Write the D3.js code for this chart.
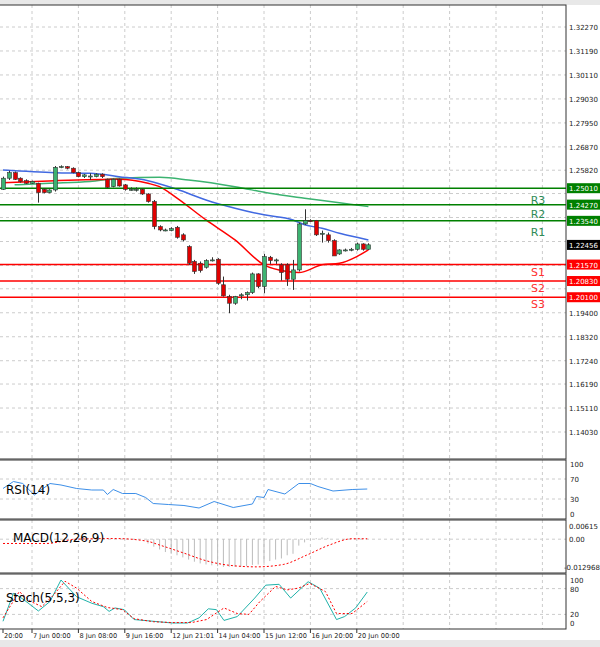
<!DOCTYPE html>
<html><head><meta charset="utf-8">
<script src="https://cdn.jsdelivr.net/npm/d3@7"></script>
<style>body{margin:0;background:#fff}svg{display:block;font-family:"DejaVu Sans",sans-serif}</style>
</head><body><svg id="c" width="600" height="647"></svg>
<script>
// candles (open, close, high, low)
var opens  = [1.2496,1.2546,1.2571,1.2546,1.2535,1.2523,1.2523,1.2496,1.2481,1.2493,1.2595,1.2598,1.2591,1.2571,1.2553,1.2556,1.2553,1.2564,1.2541,1.2508,1.2541,1.2516,1.2496,1.2496,1.2496,1.2475,1.2441,1.2328,1.2313,1.2310,1.2325,1.2291,1.2238,1.2171,1.2163,1.2145,1.2178,1.2181,1.2066,1.2013,1.1983,1.2016,1.2021,1.2031,1.2115,1.2058,1.2190,1.2175,1.2156,1.2156,1.2091,1.2133,1.2340,1.2355,1.2355,1.2298,1.2291,1.2265,1.2205,1.2220,1.2223,1.2226,1.2250,1.2226];
var closes = [1.2546,1.2571,1.2541,1.2531,1.2523,1.2531,1.2481,1.2481,1.2493,1.2595,1.2598,1.2591,1.2571,1.2553,1.2561,1.2556,1.2564,1.2553,1.2505,1.2541,1.2511,1.2496,1.2496,1.2496,1.2475,1.2441,1.2328,1.2313,1.2313,1.2319,1.2280,1.2268,1.2163,1.2126,1.2130,1.2175,1.2178,1.2073,1.2016,1.1983,1.2013,1.2021,1.2031,1.2115,1.2058,1.2193,1.2175,1.2178,1.2121,1.2091,1.2133,1.2340,1.2355,1.2353,1.2291,1.2298,1.2265,1.2196,1.2223,1.2223,1.2226,1.2250,1.2226,1.2246];
var highs  = [1.2553,1.2580,1.2576,1.2550,1.2541,1.2535,1.2526,1.2501,1.2496,1.2601,1.2604,1.2601,1.2595,1.2576,1.2565,1.2568,1.2568,1.2568,1.2544,1.2544,1.2544,1.2520,1.2505,1.2505,1.2501,1.2478,1.2448,1.2334,1.2319,1.2325,1.2331,1.2298,1.2244,1.2178,1.2171,1.2181,1.2190,1.2186,1.2103,1.2021,1.2016,1.2028,1.2036,1.2121,1.2118,1.2205,1.2196,1.2184,1.2163,1.2163,1.2178,1.2346,1.2406,1.2361,1.2358,1.2310,1.2301,1.2271,1.2226,1.2229,1.2232,1.2256,1.2253,1.2253];
var lows   = [1.2493,1.2538,1.2538,1.2526,1.2520,1.2520,1.2436,1.2478,1.2478,1.2486,1.2591,1.2586,1.2568,1.2550,1.2547,1.2538,1.2550,1.2547,1.2501,1.2505,1.2508,1.2490,1.2490,1.2486,1.2471,1.2436,1.2316,1.2307,1.2307,1.2307,1.2274,1.2261,1.2156,1.2115,1.2121,1.2139,1.2171,1.2066,1.2013,1.1938,1.1976,1.2001,1.1995,1.2025,1.2051,1.2028,1.2160,1.2160,1.2085,1.2061,1.2043,1.2126,1.2336,1.2349,1.2286,1.2256,1.2256,1.2244,1.2201,1.2216,1.2217,1.2220,1.2220,1.2223];

// moving averages [candle index, price]
var maRed   = [[0,1.2526],[9,1.2535],[20,1.2541],[25,1.2523],[27,1.2508],[30,1.2456],[35,1.2358],[40,1.2268],[45,1.2156],[49,1.2126],[51,1.2121],[55,1.2156],[58,1.2163],[61,1.2193],[63,1.2223]];
var maBlue  = [[0,1.2583],[9,1.2571],[15,1.2568],[20,1.2553],[25,1.2535],[30,1.2496],[35,1.2448],[40,1.2411],[45,1.2381],[50,1.2358],[52,1.2336],[55,1.2321],[58,1.2298],[61,1.2280],[63,1.2268]];
var maGreen = [[2,1.2516],[8,1.2523],[15,1.2531],[20,1.2546],[27,1.2550],[32,1.2538],[40,1.2508],[46,1.2478],[52,1.2456],[58,1.2436],[63,1.2418]];

var levelsR = [1.2501,1.2427,1.2354];
var levelsS = [1.2157,1.2083,1.2010];
var lastPrice = 1.22456;
var priceTicks = [1.32270,1.31190,1.30110,1.29030,1.27950,1.26870,1.25820,1.24770,1.23690,1.22610,1.21530,1.20480,1.19400,1.18320,1.17240,1.16190,1.15110,1.14030];

var rsi = [[0,51],[1.8,65],[3.4,61],[5.4,38],[8.1,61],[10,58],[12.7,51],[15.3,48],[17.3,48],[18,39],[19,49],[20.6,41],[22.9,41],[24.6,33],[25.9,21],[28.5,19],[31.2,17],[33.8,12],[36.4,25],[39.7,13],[43,20],[43.7,35],[45,33],[45.7,49],[48.6,40],[51,61],[53,61],[54.3,55],[56.9,46],[60.2,49],[62.8,50]];

var macdHist = [[25,-0.002],[26,-0.0035],[27,-0.0048],[28,-0.006],[29,-0.0068],[30,-0.0075],[31,-0.0085],[32,-0.0095],[33,-0.0105],[34,-0.0113],[35,-0.0118],[36,-0.0122],[37,-0.0126],[38,-0.0129],[39,-0.0129],[40,-0.0129],[41,-0.0128],[42,-0.0125],[43,-0.012],[44,-0.0118],[45,-0.0108],[46,-0.0102],[47,-0.0095],[48,-0.009],[49,-0.0075],[50,-0.0068],[51,-0.003],[52,-0.0015],[53,-0.0005],[54,0.0005],[55,0.0008],[56,0.0006]];
var macdSignal = [[0,-0.002],[7.4,-0.002],[12.7,0],[19.3,0.0003],[24.6,-0.0008],[27.2,-0.0029],[31.2,-0.0065],[35.1,-0.0101],[39.1,-0.0122],[43.7,-0.0129],[48.3,-0.0118],[52.3,-0.0075],[56.2,-0.0028],[60.2,0.0002],[62.8,0.0002]];

var stochMain = [[0,4],[1.8,69],[3.4,56],[6.1,28],[8.1,50],[10,100],[12.7,61],[15.3,46],[17.3,38],[18.3,27],[19.3,35],[20.9,31],[22.6,8],[25.9,4],[29.2,0],[31.8,0],[32.5,4],[33.8,12],[35.4,33],[36.8,31],[38.1,6],[40.4,15],[43.4,58],[45.3,88],[47.6,90],[49.6,58],[52.6,96],[54.6,81],[57.5,8],[58.9,15],[60.8,35],[62.8,72]];
var stochSig = [[0,12],[2.8,73],[4.8,50],[6.7,38],[8.7,65],[10.7,97],[12.7,81],[15.3,50],[18,36],[20.6,31],[22.6,10],[25.9,3],[29.2,1],[32.5,1],[35.1,8],[38.1,35],[40.4,22],[42.4,20],[44.3,50],[47,85],[49,77],[50.9,81],[52.9,92],[55.6,73],[57.5,22],[60.2,22],[62.8,50]];

var dateLabels = [[-3,"20:00"],[5,"7 Jun 00:00"],[13,"8 Jun 08:00"],[21,"9 Jun 16:00"],[29,"12 Jun 21:01"],[37,"14 Jun 04:00"],[45,"15 Jun 12:00"],[53,"16 Jun 20:00"],[61,"20 Jun 00:00"]];

var svg = d3.select("#c");
var R = 566;
var x = d3.scaleLinear().domain([0,1]).range([3,8.8]);
var y = d3.scaleLinear().domain([1.14030,1.32270]).range([432,27]);
var yR = d3.scaleLinear().domain([0,100]).range([514,464]);
var yM = d3.scaleLinear().domain([-0.012968,0.00615]).range([567,526]);
var yS = d3.scaleLinear().domain([0,100]).range([623,580]);

svg.append("rect").attr("x",0).attr("y",0).attr("width",600).attr("height",5).attr("fill","#e8e8e8");
svg.append("rect").attr("x",0).attr("y",640).attr("width",600).attr("height",7).attr("fill","#e8e8e8");

var panels = [[5,459],[460,519],[520,573],[574,629]];
var gridX = d3.range(-3,100,8).map(function(i){return x(i)}).filter(function(v){return v>0&&v<R});

panels.forEach(function(p){
  gridX.forEach(function(gx){
    svg.append("line").attr("x1",gx).attr("x2",gx).attr("y1",p[0]).attr("y2",p[1])
      .attr("stroke","#ccc").attr("stroke-dasharray","3,3");
  });
});
priceTicks.forEach(function(t){
  svg.append("line").attr("x1",0).attr("x2",R).attr("y1",y(t)).attr("y2",y(t)).attr("stroke","#ccc").attr("stroke-dasharray","3,3");
});
[[yR,[70,30]],[yM,[0]],[yS,[80,20]]].forEach(function(q){
  q[1].forEach(function(v){
    svg.append("line").attr("x1",0).attr("x2",R).attr("y1",q[0](v)).attr("y2",q[0](v)).attr("stroke","#ccc").attr("stroke-dasharray","3,3");
  });
});

// MAs
var line = d3.line().x(function(d){return x(d[0])}).y(function(d){return y(d[1])}).curve(d3.curveMonotoneX);
svg.append("path").attr("d",line(maGreen)).attr("fill","none").attr("stroke","#3cb371").attr("stroke-width",1.5);
svg.append("path").attr("d",line(maBlue)).attr("fill","none").attr("stroke","#4169e1").attr("stroke-width",1.5);
svg.append("path").attr("d",line(maRed)).attr("fill","none").attr("stroke","#ff0000").attr("stroke-width",1.5);

// levels
levelsR.forEach(function(v){
  svg.append("line").attr("x1",0).attr("x2",R).attr("y1",y(v)).attr("y2",y(v)).attr("stroke","#008000").attr("stroke-width",1.5);
});
levelsS.forEach(function(v){
  svg.append("line").attr("x1",0).attr("x2",R).attr("y1",y(v)).attr("y2",y(v)).attr("stroke","#ff0000").attr("stroke-width",1.5);
});
[["R3",levelsR[1],-1],["R2",levelsR[2],-3],["R1",levelsR[2],15]].forEach(function(d){
  svg.append("text").attr("x",538).attr("y",y(d[1])+d[2]).attr("text-anchor","middle").attr("font-size",11).attr("fill","#2e8b57").text(d[0]);
});
[["S1",levelsS[0],11],["S2",levelsS[1],11],["S3",levelsS[2],11]].forEach(function(d){
  svg.append("text").attr("x",538).attr("y",y(d[1])+d[2]).attr("text-anchor","middle").attr("font-size",11).attr("fill","#ff3030").text(d[0]);
});

// candles
var cg = svg.append("g");
d3.range(opens.length).forEach(function(i){
  var up = closes[i] >= opens[i];
  var cx = Math.round(x(i))+0.5;
  cg.append("line").attr("x1",cx).attr("x2",cx).attr("y1",y(highs[i])).attr("y2",y(lows[i])).attr("stroke","#333");
  var top = y(Math.max(opens[i],closes[i])), bot = y(Math.min(opens[i],closes[i]));
  cg.append("rect").attr("x",cx-2).attr("y",top).attr("width",4).attr("height",Math.max(1,bot-top))
    .attr("fill",up?"#3cb371":"#e00000").attr("stroke","#333").attr("stroke-width",0.6);
});

// RSI
var lr = d3.line().x(function(d){return x(d[0])}).y(function(d){return yR(d[1])});
svg.append("path").attr("d",lr(rsi)).attr("fill","none").attr("stroke","#3d8fe8");
svg.append("text").attr("x",6).attr("y",494).attr("font-size",12).text("RSI(14)");

// MACD
macdHist.forEach(function(d){
  svg.append("line").attr("x1",x(d[0])).attr("x2",x(d[0])).attr("y1",yM(0)).attr("y2",yM(d[1])).attr("stroke","#bbb");
});
var lm = d3.line().x(function(d){return x(d[0])}).y(function(d){return yM(d[1])}).curve(d3.curveMonotoneX);
svg.append("path").attr("d",lm(macdSignal)).attr("fill","none").attr("stroke","#ff0000").attr("stroke-dasharray","2,2");
svg.append("text").attr("x",13).attr("y",542).attr("font-size",12).text("MACD(12,26,9)");

// Stoch
var ls = d3.line().x(function(d){return x(d[0])}).y(function(d){return yS(d[1])});
svg.append("path").attr("d",ls(stochMain)).attr("fill","none").attr("stroke","#20b2aa");
svg.append("path").attr("d",ls(stochSig)).attr("fill","none").attr("stroke","#ff0000").attr("stroke-dasharray","2,2");
svg.append("text").attr("x",6).attr("y",602).attr("font-size",12).text("Stoch(5,5,3)");

// panel borders
panels.forEach(function(p){
  svg.append("rect").attr("x",-1).attr("y",p[0]).attr("width",R+1).attr("height",p[1]-p[0]).attr("fill","none").attr("stroke","#333");
});

// right axes (skip tick labels hidden under the level boxes)
var boxed = levelsR.concat(levelsS, [lastPrice]);
var ax = svg.append("g").attr("font-size",7).attr("fill","#222");
priceTicks.forEach(function(t){
  var hidden = boxed.some(function(b){return Math.abs(y(b)-y(t))<9});
  if(!hidden) ax.append("text").attr("x",569).attr("y",y(t)+3).text(t.toFixed(5));
});
[[100,yR],[70,yR],[30,yR],[0,yR]].forEach(function(d){ ax.append("text").attr("x",570).attr("y",d[1](d[0])+3).text(d[0]); });
ax.append("text").attr("x",569).attr("y",yM(0.00615)+3).text("0.00615");
ax.append("text").attr("x",569).attr("y",yM(0)+3).text("0.00");
ax.append("text").attr("x",564).attr("y",yM(-0.012968)+3).text("-0.012968");
[100,80,20,0].forEach(function(v){ ax.append("text").attr("x",570).attr("y",yS(v)+3).text(v); });

function box(v,col){
  svg.append("rect").attr("x",567).attr("y",y(v)-5).attr("width",33).attr("height",10).attr("fill",col);
  svg.append("text").attr("x",569).attr("y",y(v)+3).attr("font-size",7).attr("fill","#fff").text(v.toFixed(5));
}
levelsR.forEach(function(v){box(v,"#008000")});
levelsS.forEach(function(v){box(v,"#ff0000")});
box(lastPrice,"#000");

// date axis
dateLabels.forEach(function(d){
  var px = Math.max(3,x(d[0]));
  svg.append("line").attr("x1",px).attr("x2",px).attr("y1",629).attr("y2",633).attr("stroke","#333");
  svg.append("text").attr("x",px+1).attr("y",638).attr("font-size",6.6).attr("fill","#222").text(d[1]);
});
</script></body></html>
